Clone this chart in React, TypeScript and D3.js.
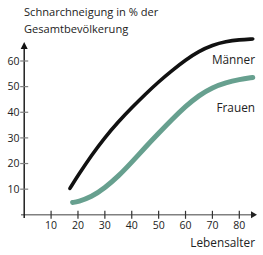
import { useEffect, useRef } from "react";
import * as d3 from "d3";

const maennerAges = [17, 20, 25, 30, 35, 40, 45, 50, 55, 60, 65, 70, 75, 80, 85];
const maennerValues = [10.3, 15.3, 23.2, 30.2, 36.3, 41.8, 47.0, 51.9, 56.3, 60.4, 63.8, 66.2, 67.6, 68.3, 68.6];

const frauenAges = [18, 20, 25, 30, 35, 40, 45, 50, 55, 60, 65, 70, 75, 80, 85];
const frauenValues = [4.8, 5.1, 6.9, 10.5, 15.0, 20.5, 26.3, 31.8, 37.2, 42.3, 46.6, 49.7, 51.6, 52.8, 53.6];

const xTicks = [10, 20, 30, 40, 50, 60, 70, 80];
const yTicks = [10, 20, 30, 40, 50, 60];

const FONT = "'Open Sans', sans-serif";
const TEXT = "#222";

export default function App() {
	const ref = useRef<SVGSVGElement>(null);

	useEffect(() => {
		if (!ref.current) return;
		const svg = d3.select(ref.current);
		svg.selectAll("*").remove();

		const x = d3.scaleLinear().domain([0, 80]).range([24.2, 239.3]);
		const y = d3.scaleLinear().domain([0, 60]).range([214.8, 61]);

		// x axis (gray line) + arrow
		svg
			.append("line")
			.attr("x1", 21)
			.attr("x2", 251)
			.attr("y1", y(0))
			.attr("y2", y(0))
			.attr("stroke", "#808080")
			.attr("stroke-width", 1.6);
		svg
			.append("path")
			.attr("d", `M251,${y(0) - 3.5}L257,${y(0)}L251,${y(0) + 3.5}Z`)
			.attr("fill", "#222");

		// y axis + arrow
		svg
			.append("line")
			.attr("x1", x(0))
			.attr("x2", x(0))
			.attr("y1", 218)
			.attr("y2", 48)
			.attr("stroke", "#111")
			.attr("stroke-width", 1.4);
		svg
			.append("path")
			.attr("d", `M${x(0) - 3.5},49L${x(0)},42L${x(0) + 3.5},49Z`)
			.attr("fill", "#111");

		svg
			.append("g")
			.selectAll("line")
			.data(xTicks)
			.join("line")
			.attr("x1", (d) => x(d))
			.attr("x2", (d) => x(d))
			.attr("y1", y(0) - 4)
			.attr("y2", y(0) + 4)
			.attr("stroke", "#333")
			.attr("stroke-width", 1.2);

		svg
			.append("g")
			.selectAll("text")
			.data(xTicks)
			.join("text")
			.attr("x", (d) => x(d))
			.attr("y", 228.5)
			.attr("text-anchor", "middle")
			.attr("font-family", FONT)
			.attr("font-size", 10.5)
			.attr("fill", TEXT)
			.text((d) => d);

		svg
			.append("g")
			.selectAll("line")
			.data(yTicks)
			.join("line")
			.attr("x1", x(0) - 4)
			.attr("x2", x(0) + 4)
			.attr("y1", (d) => y(d))
			.attr("y2", (d) => y(d))
			.attr("stroke", "#808080")
			.attr("stroke-width", 1.2);

		svg
			.append("g")
			.selectAll("text")
			.data(yTicks)
			.join("text")
			.attr("x", 19.5)
			.attr("y", (d) => y(d))
			.attr("dy", "0.36em")
			.attr("text-anchor", "end")
			.attr("font-family", FONT)
			.attr("font-size", 10.5)
			.attr("fill", TEXT)
			.text((d) => d);

		const line = d3
			.line<[number, number]>()
			.x((d) => x(d[0]))
			.y((d) => y(d[1]))
			.curve(d3.curveBasis);

		svg
			.append("path")
			.datum(frauenAges.map((a, i) => [a, frauenValues[i]] as [number, number]))
			.attr("d", line)
			.attr("fill", "none")
			.attr("stroke", "#67a08f")
			.attr("stroke-width", 5)
			.attr("stroke-linecap", "round");

		svg
			.append("path")
			.datum(maennerAges.map((a, i) => [a, maennerValues[i]] as [number, number]))
			.attr("d", line)
			.attr("fill", "none")
			.attr("stroke", "#111")
			.attr("stroke-width", 3.6)
			.attr("stroke-linecap", "round");

		const labels = [
			{ text: "Männer", x: 255, y: 64 },
			{ text: "Frauen", x: 255, y: 112 },
			{ text: "Lebensalter", x: 255, y: 247 },
		];
		svg
			.append("g")
			.selectAll("text")
			.data(labels)
			.join("text")
			.attr("x", (d) => d.x)
			.attr("y", (d) => d.y)
			.attr("text-anchor", "end")
			.attr("font-family", FONT)
			.attr("font-size", 11.8)
			.attr("fill", TEXT)
			.text((d) => d.text);

		const title = ["Schnarchneigung in % der", "Gesamtbevölkerung"];
		svg
			.append("g")
			.selectAll("text")
			.data(title)
			.join("text")
			.attr("x", 24)
			.attr("y", (_, i) => 16 + i * 16.5)
			.attr("font-family", FONT)
			.attr("font-size", 11.1)
			.attr("fill", TEXT)
			.text((d) => d);
	}, []);

	return (
		<svg
			ref={ref}
			width={263}
			height={255}
			style={{ position: "absolute", left: 0, top: 0, background: "#fff" }}
		/>
	);
}
